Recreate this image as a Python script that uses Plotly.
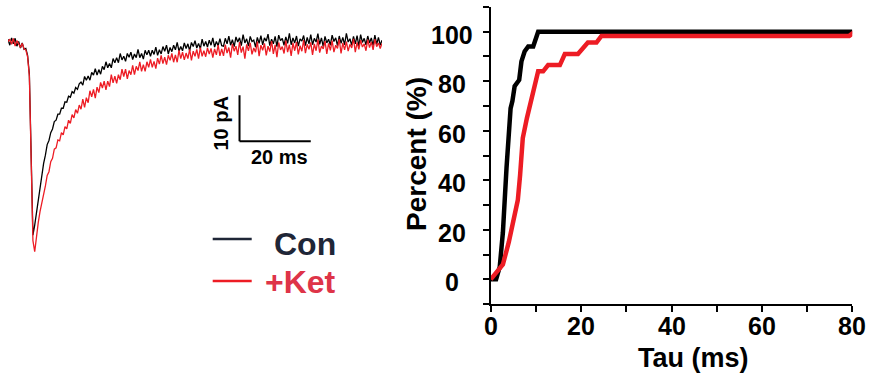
import numpy as np
import plotly.graph_objects as go

W, H = 871, 381
FONT = "Liberation Sans, Arial, Helvetica, sans-serif"

# ---------------- data ----------------
SAMPLE_MS = 0.5  # sampling interval of the current traces

con_trace_pA = [
    0.6, -0.7, 0.9, -0.4, 0.8, -0.9, 0.1, -1.3, -0.2, -1.6,
    -1.4, -2.9, -7.0, -24.0, -42.0, -39.8, -37.1, -34.2, -31.0, -28.9,
    -26.4, -24.6, -22.3, -21.4, -19.7, -18.9, -17.3, -17.0, -15.7, -15.7,
    -14.4, -14.4, -13.0, -13.1, -11.8, -12.0, -10.8, -11.1, -9.9, -10.3, -9.1,
    -8.7, -9.4, -7.5, -8.3, -7.4, -8.3, -6.6, -7.2, -5.8, -7.2,
    -6.0, -7.0, -5.3, -6.0, -4.3, -5.6, -4.7, -5.6, -3.6, -4.5,
    -3.4, -4.5, -2.5, -3.9, -3.1, -4.2, -2.5, -3.3, -2.2, -3.8,
    -2.6, -3.4, -1.6, -3.4, -2.5, -3.7, -1.8, -2.8, -1.8, -3.1,
    -1.8, -2.7, -1.1, -2.9, -1.7, -2.6, -1.0, -2.0, -0.7, -2.6,
    -1.2, -2.1, -0.7, -1.7, -0.1, -2.0, -1.0, -1.9, -0.2, -1.4,
    -0.4, -1.9, -0.1, -1.0, 0.3, -1.3, -0.3, -1.5, 0.6, -0.9,
    0.1, -1.1, 0.4, -0.7, 0.9, -1.1, 0.1, -0.8, 0.7, -0.8,
    -0.9, 0.8, -0.4, 1.3, -0.7, 0.5, -1.0, 1.1, 0.0, 0.9,
    -0.8, 1.6, -0.2, 0.7, -0.9, 1.2, 0.1, 0.4, -1.1, 1.0,
    -0.3, 1.4, -0.6, 0.9, 0.2, 1.7, -0.8, 0.6, -0.4, 1.2,
    -1.0, 1.5, 0.3, 0.8, -0.7, 1.1, -0.3, 1.9, -0.6, 0.9,
    -0.2, 1.3, -0.9, 0.7, 0.2, 1.4, -0.8, 1.0, -0.4, 1.6,
    -0.6, 0.8, 0.0, 1.8, -0.5, 0.9, -1.0, 1.2, -0.2, 0.6,
    -0.7, 1.5, 0.1, 0.9, -0.8, 1.3, -0.3, 1.0, -0.6, 1.9,
    0.0, 0.7, -0.7, 1.2, -0.4, 1.4, -0.9, 1.6, -0.1, 0.8,
    -0.6, 1.3, -0.2, 0.9, -0.8, 1.5, -0.5, 1.0, -0.7, 0.4,
]

ket_trace_pA = [
    0.1, 0.6, -0.5, 0.8, -0.9, 0.3, -0.4, -1.2, -0.3, -1.5,
    -1.7, -3.2, -7.5, -25.0, -43.2, -45.6, -41.6, -39.2, -36.8, -35.1,
    -32.8, -31.3, -29.0, -28.2, -26.0, -25.3, -23.3, -23.0, -21.3, -21.5,
    -19.7, -20.2, -18.4, -18.9, -17.0, -17.7, -15.8, -16.5, -14.7, -15.5, -13.7,
    -14.6, -12.4, -14.2, -12.1, -13.2, -10.6, -11.9, -10.3, -12.2, -9.8,
    -11.0, -8.8, -10.0, -8.5, -10.4, -8.5, -9.7, -7.1, -8.9, -7.4,
    -9.0, -7.1, -8.2, -5.9, -7.5, -5.9, -8.0, -6.2, -7.1, -5.1,
    -7.1, -5.3, -6.2, -4.3, -6.4, -4.9, -6.4, -4.3, -5.5, -3.8,
    -5.5, -4.2, -5.8, -3.5, -4.8, -2.9, -4.7, -3.3, -4.9, -2.9,
    -4.0, -2.5, -4.4, -2.8, -4.4, -1.8, -3.6, -2.2, -3.9, -2.4,
    -3.6, -1.6, -4.0, -2.0, -3.1, -1.6, -3.6, -1.2, -3.1, -1.9,
    -3.2, -1.3, -2.6, -1.4, -3.4, -1.5, -2.8, -0.7, -3.0, -1.5,
    -3.0, -0.6, -2.4, -1.2, -3.4, -0.4, -2.0, -0.9, -2.8, 0.0,
    -2.3, -1.0, -3.6, -0.5, -1.9, -0.2, -2.7, -1.3, -2.2, 0.1,
    -3.1, -0.7, -1.8, -0.3, -2.9, -0.9, -2.1, 0.2, -2.6, -0.6,
    -3.3, -0.1, -1.7, -1.0, -2.5, 0.3, -2.2, -0.6, -3.0, -0.2,
    -1.9, 0.0, -2.7, -0.8, -2.0, 0.4, -2.4, -0.5, -1.6, -0.1,
    -2.8, -0.4, -1.9, 0.5, -2.3, -0.9, -1.5, 0.2, -2.6, -0.3,
    -1.8, 0.3, -2.2, -0.7, -1.4, 0.6, -2.5, -0.2, -1.7, 0.1,
    -2.0, -0.5, -1.3, 0.7, -2.2, -0.1, -1.6, 0.4, -1.1, -0.4,
    -1.9, 0.5, -1.2, 0.0, -1.7, 0.6, -1.0, -0.2, -1.4, -0.3,
]

tau_con_ms = [0, 1.2, 2.0, 2.7, 3.5, 4.4, 4.8, 5.3, 6.3, 6.8, 7.5, 8.3, 9.4, 10.5, 80.0]
pct_con = [0, 0, 5, 19, 45, 69, 72, 78, 80.5, 88, 92, 94, 94, 100, 100]

tau_ket_ms = [0, 1.2, 2.7, 4.0, 4.9, 6.0, 6.5, 7.1, 8.0, 9.0, 10.5, 11.6, 12.7, 15.3,
              16.4, 19.3, 21.5, 23.4, 24.5, 79.3, 80.6]
pct_ket = [0, 2.5, 6, 15, 22, 32, 42, 57, 65, 72, 84, 84, 86.5, 86.5,
           91, 91, 95.6, 95.6, 98.3, 98.3, 100]

y_ticks = [0, 20, 40, 60, 80, 100]
y_minor = [-10, 10, 30, 50, 70, 90, 110]
x_ticks = [0, 20, 40, 60, 80]
x_minor = [10, 30, 50, 70]

legend_labels = ["Con", "+Ket"]
scale_pA = 10
scale_ms = 20

# colours
BLACK = "#000000"
RED = "#ED1C24"
CON_LEG = "#1F2637"
KET_TXT = "#DE3448"


def px(x):
    return x / W


def py(y):
    return 1 - y / H


fig = go.Figure()

t_con = np.arange(len(con_trace_pA)) * SAMPLE_MS
t_ket = np.arange(len(ket_trace_pA)) * SAMPLE_MS

fig.add_trace(go.Scatter(x=t_con, y=con_trace_pA, mode="lines",
                         line=dict(color=BLACK, width=1.3), xaxis="x", yaxis="y",
                         showlegend=False, hoverinfo="skip"))
fig.add_trace(go.Scatter(x=t_ket, y=ket_trace_pA, mode="lines",
                         line=dict(color=RED, width=1.3), xaxis="x", yaxis="y",
                         showlegend=False, hoverinfo="skip"))

fig.add_trace(go.Scatter(x=tau_con_ms, y=pct_con, mode="lines",
                         line=dict(color=BLACK, width=4.5), xaxis="x2", yaxis="y2",
                         showlegend=False, cliponaxis=False))
fig.add_trace(go.Scatter(x=tau_ket_ms, y=pct_ket, mode="lines",
                         line=dict(color=RED, width=4.5), xaxis="x2", yaxis="y2",
                         showlegend=False, cliponaxis=False))

axis_common = dict(showline=True, linecolor=BLACK, linewidth=2, ticks="outside",
                   ticklen=6, tickwidth=2, tickcolor=BLACK, showgrid=False,
                   zeroline=False, mirror=False, automargin=False,
                   showticklabels=False)

fig.update_layout(
    width=W, height=H, autosize=False,
    margin=dict(l=0, r=0, t=0, b=0, pad=0, autoexpand=False),
    paper_bgcolor="white", plot_bgcolor="rgba(0,0,0,0)",
    font=dict(family=FONT, color=BLACK),
    showlegend=False,
    xaxis=dict(domain=[px(8), px(382)], range=[0, 105], visible=False,
               automargin=False),
    yaxis=dict(domain=[py(281.2), py(14.4)], range=[-52, 6], visible=False,
               automargin=False),
    xaxis2=dict(domain=[px(490.7), px(852.3)], range=[0, 80], anchor="y2",
                tickvals=x_ticks,
                minor=dict(tickvals=x_minor, ticks="outside", ticklen=6,
                           tickwidth=2, tickcolor=BLACK),
                **axis_common),
    yaxis2=dict(domain=[py(304.1), py(6.9)], range=[-10, 110], anchor="x2",
                tickvals=y_ticks,
                minor=dict(tickvals=y_minor, ticks="outside", ticklen=6,
                           tickwidth=2, tickcolor=BLACK),
                **axis_common),
)

ann = []
# y tick labels (centred, as in the reference)
for v in y_ticks:
    ann.append(dict(x=px(452), xref="paper", y=v, yref="y2", yshift=-3,
                    text=f"<b>{v}</b>", showarrow=False, xanchor="center",
                    yanchor="middle", font=dict(size=25, family=FONT, color=BLACK)))
# x tick labels
for v in x_ticks:
    ann.append(dict(x=v, xref="x2", y=py(325.5), yref="paper",
                    text=f"<b>{v}</b>", showarrow=False, xanchor="center",
                    yanchor="middle", font=dict(size=25, family=FONT, color=BLACK)))
# axis titles
ann.append(dict(x=px(416), y=py(154), xref="paper", yref="paper",
                text="<b>Percent (%)</b>", textangle=-90, showarrow=False,
                xanchor="center", yanchor="middle",
                font=dict(size=28, family=FONT, color=BLACK)))
ann.append(dict(x=px(693), y=py(357.5), xref="paper", yref="paper",
                text="<b>Tau (ms)</b>", showarrow=False,
                xanchor="center", yanchor="middle",
                font=dict(size=27, family=FONT, color=BLACK)))
# scale bar labels
ann.append(dict(x=px(220), y=py(123.5), xref="paper", yref="paper",
                text=f"<b>{scale_pA} pA</b>", textangle=-90, showarrow=False,
                xanchor="center", yanchor="middle",
                font=dict(size=20, family=FONT, color=BLACK)))
ann.append(dict(x=px(279), y=py(157), xref="paper", yref="paper",
                text=f"<b>{scale_ms} ms</b>", showarrow=False,
                xanchor="center", yanchor="middle",
                font=dict(size=20, family=FONT, color=BLACK)))
# legend texts
ann.append(dict(x=px(338), y=py(244), xref="paper", yref="paper",
                text=f"<b>{legend_labels[0]}</b>", showarrow=False,
                xanchor="right", yanchor="middle",
                font=dict(size=32, family=FONT, color=CON_LEG)))
ann.append(dict(x=px(338), y=py(282), xref="paper", yref="paper",
                text=f"<b>{legend_labels[1]}</b>", showarrow=False,
                xanchor="right", yanchor="middle",
                font=dict(size=32, family=FONT, color=KET_TXT)))
fig.update_layout(annotations=ann)

bar_t0, bar_y0 = 65, -21.6
shapes = [
    dict(type="line", xref="x", yref="y", x0=bar_t0, x1=bar_t0,
         y0=bar_y0, y1=bar_y0 + scale_pA, line=dict(color=BLACK, width=2)),
    dict(type="line", xref="x", yref="y", x0=bar_t0, x1=bar_t0 + scale_ms,
         y0=bar_y0, y1=bar_y0, line=dict(color=BLACK, width=2)),
    dict(type="line", xref="paper", yref="paper", x0=px(212.7), x1=px(251.7),
         y0=py(239), y1=py(239), line=dict(color=CON_LEG, width=2.7)),
    dict(type="line", xref="paper", yref="paper", x0=px(212.7), x1=px(251.7),
         y0=py(281), y1=py(281), line=dict(color=RED, width=2.7)),
]
fig.update_layout(shapes=shapes)

fig.write_html(
    "out.html",
    config={"displayModeBar": False},
    post_script="document.body.style.margin='0';document.body.style.overflow='hidden';",
)
